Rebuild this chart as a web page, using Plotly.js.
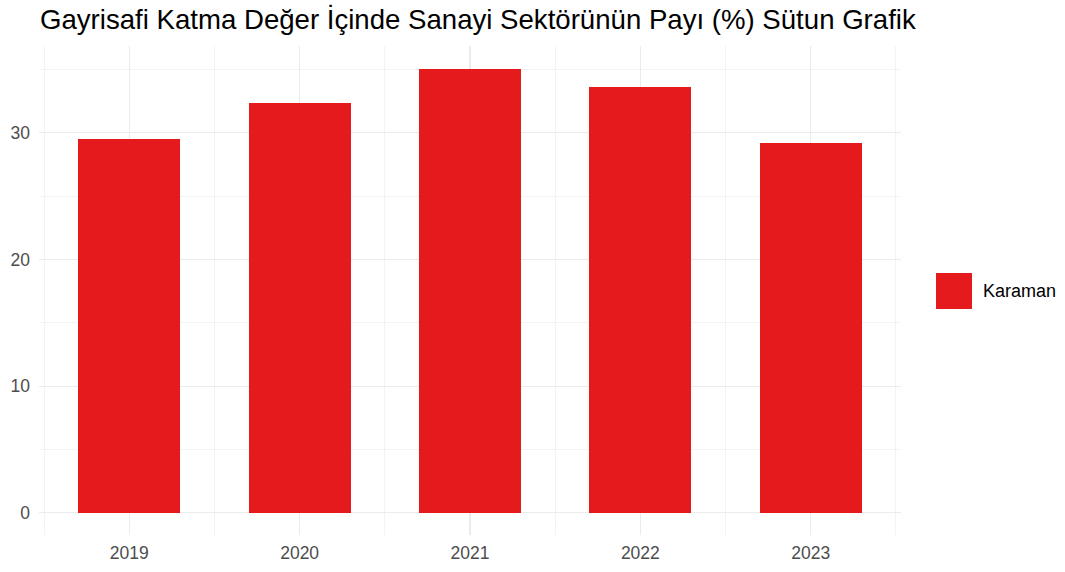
<!DOCTYPE html>
<html><head><meta charset="utf-8">
<script src="https://cdn.plot.ly/plotly-3.0.1.min.js"></script>
<style>html,body{margin:0;padding:0;background:#fff}#chart{width:1065px;height:572px}</style>
</head><body><div id="chart"></div>
<script>
const years = [2019, 2020, 2021, 2022, 2023];
const values = [29.5, 32.35, 35.05, 33.65, 29.2];
const seriesName = "Karaman";
const barColor = "#E41A1C";

const trace = {
  type: "bar", x: years, y: values, name: seriesName,
  marker: {color: barColor}, width: 0.6, showlegend: false,
  hovertemplate: "%{x}: %{y}<extra></extra>"
};
const font = "Liberation Sans, Arial, sans-serif";
const layout = {
  width: 1065, height: 572,
  margin: {l: 39, r: 164, t: 46, b: 37},
  paper_bgcolor: "#fff", plot_bgcolor: "#fff",
  font: {family: font, color: "#4d4d4d", size: 17.5},
  title: {text: "Gayrisafi Katma Değer İçinde Sanayi Sektörünün Payı (%) Sütun Grafik",
          font: {family: font, size: 27.6, color: "#000"},
          x: 40/1065, xanchor: "left", xref: "container", y: 1 - 19/572, yanchor: "middle", yref: "container"},
  xaxis: {range: [2018.47, 2023.53], tickmode: "array", tickvals: years, ticktext: years.map(String),
          showgrid: true, gridcolor: "#ebebeb", gridwidth: 1.2, zeroline: false, showline: false,
          ticks: "", ticklabelstandoff: 5,
          minor: {dtick: 0.5, tick0: 2018.5, showgrid: true, gridcolor: "#ebebeb", gridwidth: 0.6, ticks: ""}},
  yaxis: {range: [-1.755, 36.855], tick0: 0, dtick: 10, showgrid: true, gridcolor: "#ebebeb", gridwidth: 1.2,
          zeroline: false, showline: false, ticks: "", ticklabelstandoff: 8,
          minor: {dtick: 5, tick0: 0, showgrid: true, gridcolor: "#ebebeb", gridwidth: 0.6, ticks: ""}},
  bargap: 0,
  shapes: [{type: "rect", xref: "paper", yref: "paper",
            x0: (936-39)/862, x1: (972-39)/862, y0: (535-309)/489, y1: (535-273)/489,
            fillcolor: barColor, line: {width: 0}}],
  annotations: [{text: seriesName, xref: "paper", yref: "paper", x: (981-39)/862, y: (535-291)/489,
                 xanchor: "left", yanchor: "middle", showarrow: false,
                 font: {family: font, size: 18, color: "#000"}}]
};
Plotly.newPlot("chart", [trace], layout, {displayModeBar: false, staticPlot: true});
</script></body></html>
